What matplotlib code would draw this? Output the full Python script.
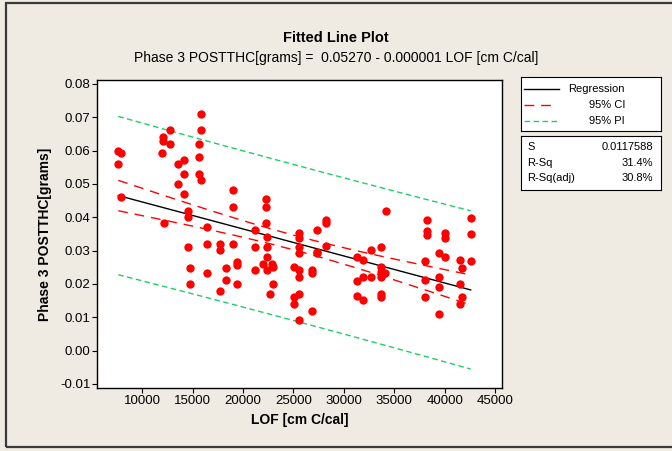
import numpy as np
import matplotlib
matplotlib.use("Agg")
from matplotlib import pyplot as plt
from matplotlib.patches import Rectangle
from matplotlib.ticker import FormatStrFormatter

plt.rcParams['font.family'] = ['Liberation Sans', 'DejaVu Sans']
plt.rcParams['axes.unicode_minus'] = False

# LOF [cm C/cal] and Phase 3 POSTTHC [grams]
lof = [15794, 15794, 12718, 12083, 12083, 12718, 15595, 11984, 7619, 7857,
       7619, 15595, 13512, 14107, 14107, 15595, 15794, 13512, 14107, 7857,
       18968, 18968, 14534, 14534, 12153, 16419,
       14534, 16419, 17708, 17708, 18968, 19365, 19395, 14762, 16419, 18274,
       14762, 18274, 19365, 17708,
       22302, 22302, 22302, 21181, 21181, 22401, 22401, 25575, 25575, 25575,
       25575, 27302, 28194, 28194, 27302, 27302, 28194, 21181, 22401, 22004,
       22837, 22401, 22996, 22996, 22669, 25079, 25575, 25575, 26865, 26865,
       25575, 25079, 25079, 26865, 25575,
       34147, 32718, 33651, 31329, 31925, 33651, 33651, 34077, 33651, 31329,
       31925, 32718, 31329, 31925, 33651, 33651, 38274, 38274, 38274, 40000,
       40000, 38046, 39435, 40030, 39435, 38046, 39435, 38046, 39435,
       42579, 42579, 41518, 42579, 41687, 41518, 41687, 41518]
thc = [0.0711, 0.0661, 0.0661, 0.0642, 0.0630, 0.0620, 0.0620, 0.0593, 0.0600, 0.0592,
       0.0561, 0.0581, 0.0561, 0.0571, 0.0529, 0.0530, 0.0512, 0.0501, 0.0469, 0.0460,
       0.0481, 0.0432, 0.0420, 0.0400, 0.0382, 0.0371,
       0.0311, 0.0319, 0.0319, 0.0301, 0.0319, 0.0266, 0.0256, 0.0248, 0.0232, 0.0248,
       0.0201, 0.0211, 0.0201, 0.0179,
       0.0454, 0.0430, 0.0382, 0.0362, 0.0311, 0.0341, 0.0311, 0.0352, 0.0337, 0.0311,
       0.0292, 0.0362, 0.0392, 0.0382, 0.0296, 0.0292, 0.0314, 0.0241, 0.0281, 0.0259,
       0.0259, 0.0241, 0.0251, 0.0199, 0.0171, 0.0250, 0.0241, 0.0221, 0.0241, 0.0232,
       0.0171, 0.0161, 0.0141, 0.0119, 0.0091,
       0.0420, 0.0301, 0.0311, 0.0281, 0.0271, 0.0251, 0.0236, 0.0232, 0.0221, 0.0209,
       0.0221, 0.0221, 0.0163, 0.0151, 0.0171, 0.0161, 0.0392, 0.0359, 0.0347, 0.0352,
       0.0338, 0.0269, 0.0292, 0.0281, 0.0221, 0.0211, 0.0191, 0.0161, 0.0109,
       0.0398, 0.0350, 0.0271, 0.0269, 0.0248, 0.0199, 0.0161, 0.0141]

title = "Fitted Line Plot"
subtitle = "Phase 3 POSTTHC[grams] =  0.05270 - 0.000001 LOF [cm C/cal]"
stat_names = ["S", "R-Sq", "R-Sq(adj)"]
stat_values = ["0.0117588", "31.4%", "30.8%"]
xticks = [10000, 15000, 20000, 25000, 30000, 35000, 40000, 45000]
yticks = [-0.01, 0.00, 0.01, 0.02, 0.03, 0.04, 0.05, 0.06, 0.07, 0.08]

# fitted line as printed on the chart (slope)
b0 = 0.05270
b1 = -8.1e-7
s = 0.0117588
t_crit = 1.982

x = np.array(lof, dtype=float)
y = np.array(thc)
n = len(x)
xs = np.unique(x)
fit = b0 + b1 * xs
sxx = np.sum((x - x.mean()) ** 2)
h = 1.0 / n + (xs - x.mean()) ** 2 / sxx
ci = t_crit * s * np.sqrt(h)
pi = t_crit * s * np.sqrt(1 + h)

bg = '#F0EBE2'
red = '#FF0000'
green = '#22CC66'

fig = plt.figure(figsize=(6.72, 4.51), dpi=100, facecolor=bg)
fig.patches.append(Rectangle((6 / 672, 1 - 447 / 451), 700 / 672, 444 / 451,
                             transform=fig.transFigure, fill=False,
                             edgecolor='#3a3a3a', lw=1.6))

ax = fig.add_axes([97.3 / 672, 1 - 388.3 / 451, 405 / 672, 308.3 / 451])
ax.set_facecolor('white')
ax.scatter(x, y, s=36, color=red, zorder=3, linewidths=0)
ax.plot(xs, fit, color='black', lw=1.0, zorder=2)
ax.plot(xs, fit + ci, color=red, lw=1.0, dashes=(7, 5), zorder=2)
ax.plot(xs, fit - ci, color=red, lw=1.0, dashes=(7, 5), zorder=2)
ax.plot(xs, fit + pi, color=green, lw=1.0, dashes=(4, 2.5), zorder=2)
ax.plot(xs, fit - pi, color=green, lw=1.0, dashes=(4, 2.5), zorder=2)

ax.set_xlim(5536, 45714)
ax.set_ylim(-0.0113, 0.0812)
ax.set_xticks(xticks)
ax.set_yticks(yticks)
ax.yaxis.set_major_formatter(FormatStrFormatter('%.2f'))
ax.tick_params(axis='both', direction='out', length=3.5, width=0.8,
               labelsize=9.5, pad=1.5, colors='black')
for sp in ax.spines.values():
    sp.set_linewidth(1.0)
ax.set_xlabel("LOF [cm C/cal]", fontsize=10, fontweight='bold', labelpad=4)
ax.set_ylabel("Phase 3 POSTTHC[grams]", fontsize=10, fontweight='bold', labelpad=6)

fig.text(0.5, 1 - 37.5 / 451, title, ha='center', va='center',
         fontsize=10.5, fontweight='bold')
fig.text(0.5, 1 - 58 / 451, subtitle, ha='center', va='center', fontsize=10)

# legend box
lg = fig.add_axes([521 / 672, 1 - 131 / 451, 140 / 672, 54 / 451])
lg.set_xlim(0, 1)
lg.set_ylim(0, 1)
lg.set_xticks([])
lg.set_yticks([])
lg.set_facecolor('white')
rows = [0.778, 0.481, 0.185]
lg.plot([0.021, 0.271], [rows[0]] * 2, color='black', lw=1.0)
lg.plot([0.021, 0.243], [rows[1]] * 2, color=red, lw=1.0, dashes=(7, 5))
lg.plot([0.021, 0.271], [rows[2]] * 2, color=green, lw=1.0, dashes=(4, 2.5))
for yy, lab in zip(rows, ["Regression", "95% CI", "95% PI"]):
    lg.text(0.743, yy, lab, ha='right', va='center', fontsize=8)

# summary box
st = fig.add_axes([521 / 672, 1 - 190 / 451, 140 / 672, 54 / 451])
st.set_xlim(0, 1)
st.set_ylim(0, 1)
st.set_xticks([])
st.set_yticks([])
st.set_facecolor('white')
for yy, nm, val in zip([0.796, 0.5, 0.222], stat_names, stat_values):
    st.text(0.043, yy, nm, ha='left', va='center', fontsize=8)
    st.text(0.943, yy, val, ha='right', va='center', fontsize=8)

fig.savefig('out.png', dpi=100, facecolor=bg)
